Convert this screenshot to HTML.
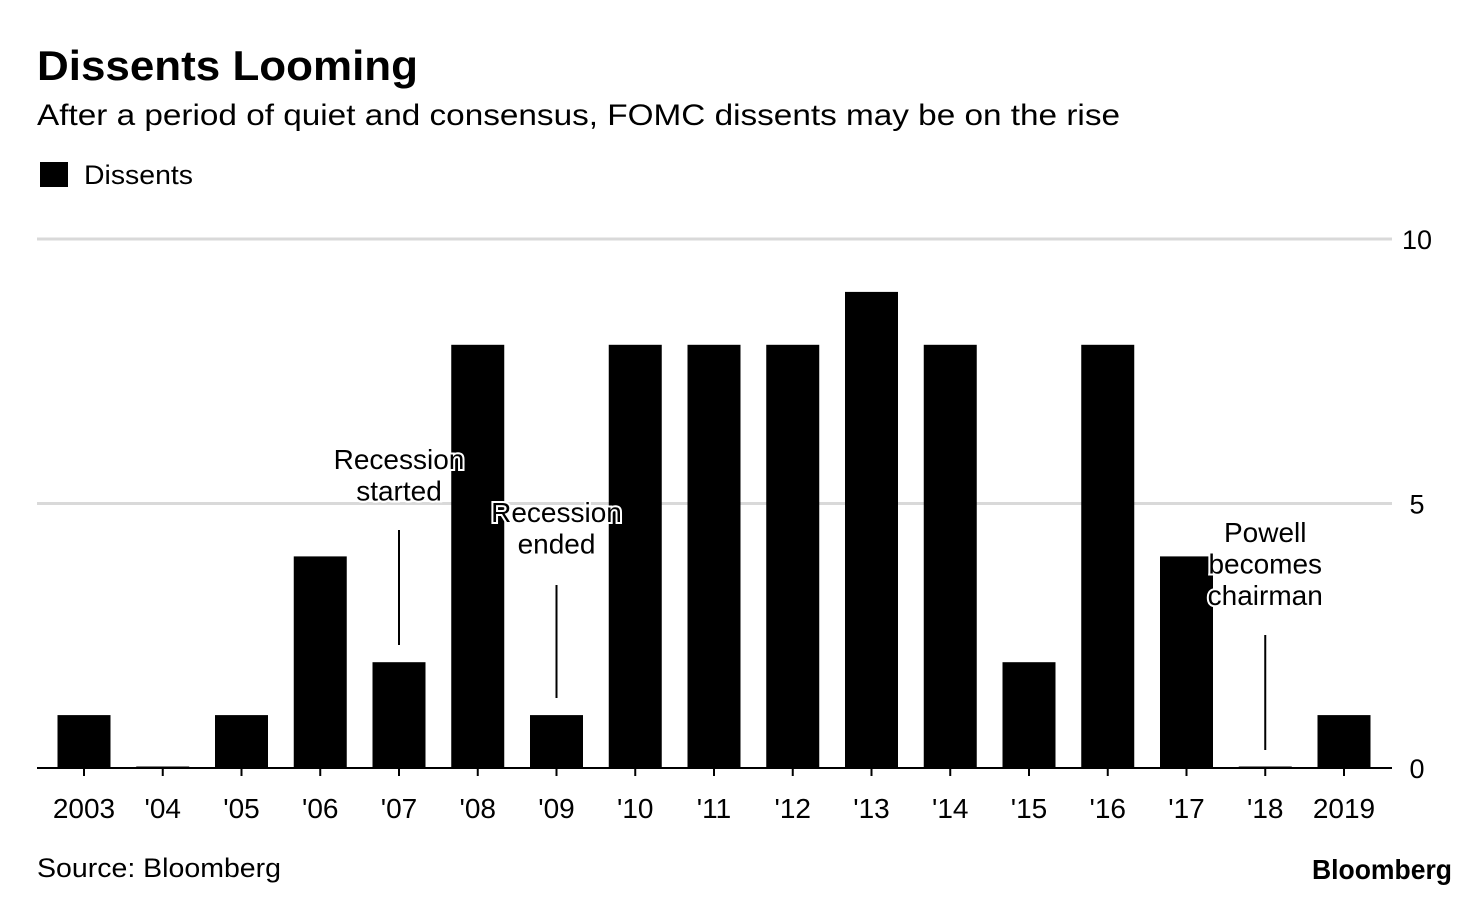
<!DOCTYPE html>
<html><head><meta charset="utf-8"><style>
body{margin:0;background:#fff;font-family:"Liberation Sans",Arial,sans-serif;}
</style></head><body>
<svg width="1480" height="900" xmlns="http://www.w3.org/2000/svg" font-family="Liberation Sans, Arial, sans-serif">
<text x="37" y="80" font-size="42" font-weight="bold" fill="#000" textLength="381" lengthAdjust="spacingAndGlyphs">Dissents Looming</text>
<text x="37" y="125" font-size="30" fill="#000" textLength="1083" lengthAdjust="spacingAndGlyphs">After a period of quiet and consensus, FOMC dissents may be on the rise</text>
<rect x="40" y="162" width="28" height="25" fill="#000"/>
<text x="84" y="184" font-size="27" fill="#000" textLength="109" lengthAdjust="spacingAndGlyphs">Dissents</text>
<g id="grid"></g><g id="bars"></g><g id="xaxis"></g><g id="ann"></g>
<text x="37" y="877" font-size="27" fill="#000" textLength="244" lengthAdjust="spacingAndGlyphs">Source: Bloomberg</text>
<text x="1452" y="879" font-size="28" font-weight="bold" text-anchor="end" fill="#000" textLength="140" lengthAdjust="spacingAndGlyphs">Bloomberg</text>
</svg>
<script>
const categories=["2003","'04","'05","'06","'07","'08","'09","'10","'11","'12","'13","'14","'15","'16","'17","'18","2019"];
const dissents=[1,0,1,4,2,8,1,8,8,8,9,8,2,8,4,0,1];
const yTicks=[0,5,10];
const NS="http://www.w3.org/2000/svg";
const x0=84,step=78.75,bw=53,yBase=768,yTop=239,yMax=10;
const xs=i=>x0+i*step;
const ys=v=>yBase-(yBase-yTop)*v/yMax;
function mk(tag,attrs,parent,text){const e=document.createElementNS(NS,tag);for(const k in attrs)e.setAttribute(k,attrs[k]);if(text!==undefined)e.textContent=text;document.getElementById(parent).appendChild(e);return e;}
yTicks.forEach(t=>{
 if(t>0){const l=mk('line',{x1:37,x2:1392,y1:ys(t),y2:ys(t),stroke:'#d9d9d9','stroke-width':3},'grid');
 
 }
 const tx=mk('text',{x:1417,y:ys(t)+10,'font-size':27,'text-anchor':'middle',fill:'#000'},'grid',String(t));
 
 
});
dissents.forEach((v,i)=>{
 const h=Math.max(ys(0)-ys(v),1.5);
 const r=mk('rect',{x:xs(i)-bw/2,y:ys(0)-h,width:bw,height:h,fill:'#000'},'bars');
 
 
});
const ax=mk('line',{x1:37,x2:1392,y1:yBase,y2:yBase,stroke:'#000','stroke-width':2},'xaxis');


categories.forEach((c,i)=>{
 const tk=mk('line',{x1:xs(i),x2:xs(i),y1:yBase,y2:yBase+8,stroke:'#000','stroke-width':2},'xaxis');
 
 
 const t=mk('text',{x:xs(i),y:818,'font-size':28,'text-anchor':'middle',fill:'#000'},'xaxis',c);
 
 
});
const anns=[
 {i:4,lines:["Recession","started"],ty:469,l1:530,l2:645},
 {i:6,lines:["Recession","ended"],ty:522,l1:585,l2:698},
 {i:15,lines:["Powell","becomes","chairman"],ty:542,l1:635,l2:750}
];
anns.forEach(a=>{
 const l=mk('line',{x1:xs(a.i),x2:xs(a.i),y1:a.l1,y2:a.l2,stroke:'#000','stroke-width':2},'ann');
 
 
 a.lines.forEach((s,j)=>{
  const t=mk('text',{x:xs(a.i),y:a.ty+j*31.5,'font-size':28,'text-anchor':'middle',fill:'#000',stroke:'#fff','stroke-width':4,'paint-order':'stroke'},'ann',s);
  
  
 });
});
</script>
</body></html>
